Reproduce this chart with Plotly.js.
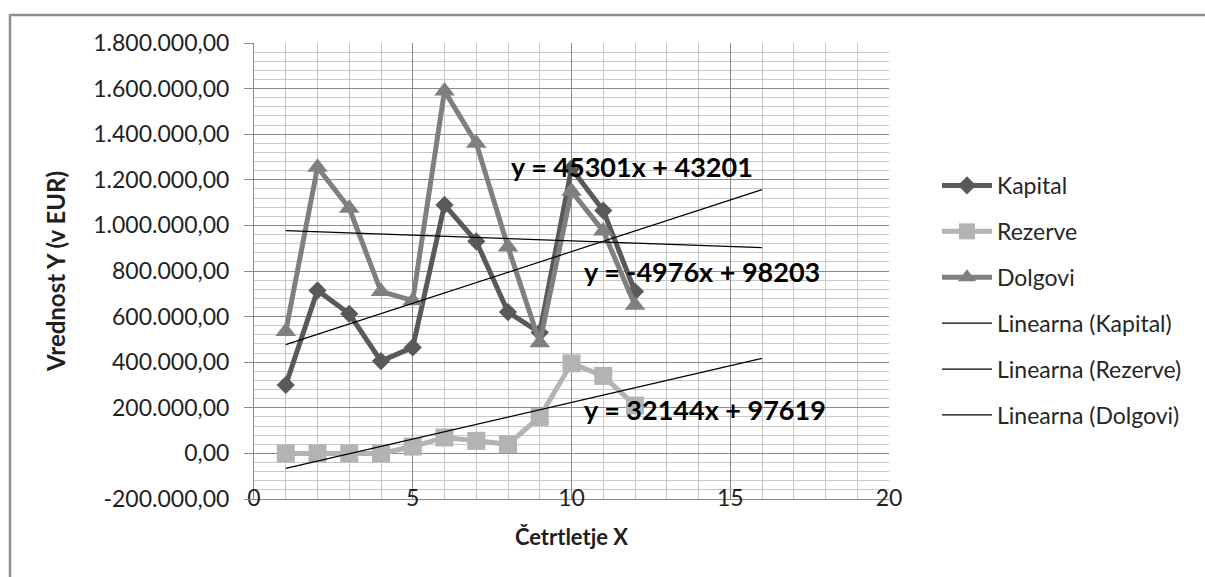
<!DOCTYPE html>
<html>
<head>
<meta charset="utf-8">
<script src="https://cdn.plot.ly/plotly-3.0.1.min.js"></script>
<style>
html,body{margin:0;padding:0;background:#fff;}
#chart{width:1205px;height:577px;}
</style>
</head>
<body>
<div id="chart"></div>
<script>
// ---- data ----
const quarters = [1, 2, 3, 4, 5, 6, 7, 8, 9, 10, 11, 12];
const kapital = [300000, 715000, 612000, 405000, 465000, 1090000, 930000, 620000, 530000, 1250000, 1065000, 710000];
const rezerve = [0, 0, 0, 0, 30000, 70000, 55000, 40000, 160000, 395000, 340000, 210000];
const dolgovi = [535000, 1255000, 1075000, 710000, 670000, 1590000, 1360000, 905000, 485000, 1150000, 975000, 650000];

const seriesNames = ['Kapital', 'Rezerve', 'Dolgovi'];
const trendNames = ['Linearna (Kapital)', 'Linearna (Rezerve)', 'Linearna (Dolgovi)'];
const trendSlopes = [45301, 32144, -4976];
const trendIntercepts = [432010, -97619, 982030];
const trendRange = [1, 16];
const equationTexts = ['y = 45301x + 43201', 'y = 32144x + 97619', 'y = -4976x + 98203'];
const equationX = [11.9, 14.2, 14.1];
const equationY = [1258000, 194000, 800000];

const yTickVals = [-200000, 0, 200000, 400000, 600000, 800000, 1000000, 1200000, 1400000, 1600000, 1800000];
const yTickLabels = ['-200.000,00', '0,00', '200.000,00', '400.000,00', '600.000,00', '800.000,00',
  '1.000.000,00', '1.200.000,00', '1.400.000,00', '1.600.000,00', '1.800.000,00'];
const xTickVals = [0, 5, 10, 15, 20];
const xTickLabels = ['0', '5', '10', '15', '20'];

// ---- styles ----
const FONT = 'Lato, "Open Sans", "Liberation Sans", sans-serif';
const seriesColors = ['#595959', '#b3b3b3', '#7f7f7f'];
const seriesSymbols = ['diamond', 'square', 'triangle-up'];
const seriesSizes = [14, 18, 18];
const seriesValues = [kapital, rezerve, dolgovi];

const traces = [];
seriesValues.forEach((vals, i) => {
  traces.push({
    type: 'scatter', mode: 'lines+markers', name: seriesNames[i],
    x: quarters, y: vals, legendgroup: 'g' + i,
    line: {color: seriesColors[i], width: 5},
    marker: {symbol: seriesSymbols[i], size: seriesSizes[i], color: seriesColors[i]}
  });
});
trendSlopes.forEach((m, i) => {
  traces.push({
    type: 'scatter', mode: 'lines', name: trendNames[i],
    x: trendRange, y: trendRange.map(x => m * x + trendIntercepts[i]),
    legendgroup: 't' + i,
    line: {color: '#000000', width: 1.2}
  });
});

const annotations = equationTexts.map((t, i) => ({
  x: equationX[i], y: equationY[i], xref: 'x', yref: 'y',
  text: '<b>' + t + '</b>', showarrow: false, xanchor: 'center', yanchor: 'middle',
  font: {family: FONT, size: 27, color: '#000'}
}));

const L = 254, R = 316, T = 43, B = 78;
const pw = 1205 - L - R, ph = 577 - T - B;
const px = v => (v - L) / pw;
const py = v => (577 - B - v) / ph;

const layout = {
  width: 1205, height: 577,
  margin: {l: L, r: R, t: T, b: B, pad: 0},
  paper_bgcolor: '#ffffff', plot_bgcolor: '#ffffff',
  font: {family: FONT, color: '#1f1f1f', size: 23},
  showlegend: true,
  legend: {
    x: px(937), xanchor: 'left', y: py(164), yanchor: 'top',
    font: {family: FONT, size: 23, color: '#262626'},
    tracegroupgap: 13, traceorder: 'grouped', itemwidth: 50,
    bgcolor: 'rgba(0,0,0,0)'
  },
  xaxis: {
    range: [0, 20], tickvals: xTickVals, ticktext: xTickLabels,
    showgrid: true, gridcolor: '#8a8a8a', gridwidth: 1,
    minor: {dtick: 1, showgrid: true, gridcolor: '#c8c8c8', gridwidth: 1},
    zeroline: false, showline: true, linecolor: '#8a8a8a', linewidth: 1,
    ticks: '', ticklabelstandoff: -22,
    tickfont: {family: FONT, size: 23, color: '#1f1f1f'},
    title: {text: '<b>Četrtletje X</b>', font: {family: FONT, size: 22, color: '#1f1f1f'}, standoff: 20},
    automargin: false
  },
  yaxis: {
    range: [-200000, 1800000], tickvals: yTickVals, ticktext: yTickLabels,
    showgrid: true, gridcolor: '#8a8a8a', gridwidth: 1,
    minor: {dtick: 40000, showgrid: true, gridcolor: '#c8c8c8', gridwidth: 1},
    zeroline: false, showline: true, linecolor: '#8a8a8a', linewidth: 1,
    ticks: 'outside', ticklen: 9, tickcolor: '#8a8a8a', tickwidth: 1,
    ticklabelstandoff: 10,
    tickfont: {family: FONT, size: 23, color: '#1f1f1f'},
    title: {text: '<b>Vrednost Y (v EUR)</b>', font: {family: FONT, size: 24, color: '#1f1f1f'}, standoff: 20},
    automargin: false
  },
  annotations: annotations,
  shapes: [{
    type: 'rect', xref: 'paper', yref: 'paper',
    x0: px(10), x1: px(1230), y0: py(600), y1: py(15),
    line: {color: '#8f8f8f', width: 2.5}, fillcolor: 'rgba(0,0,0,0)', layer: 'above'
  }]
};

Plotly.newPlot('chart', traces, layout, {staticPlot: true, displayModeBar: false});
</script>
</body>
</html>
